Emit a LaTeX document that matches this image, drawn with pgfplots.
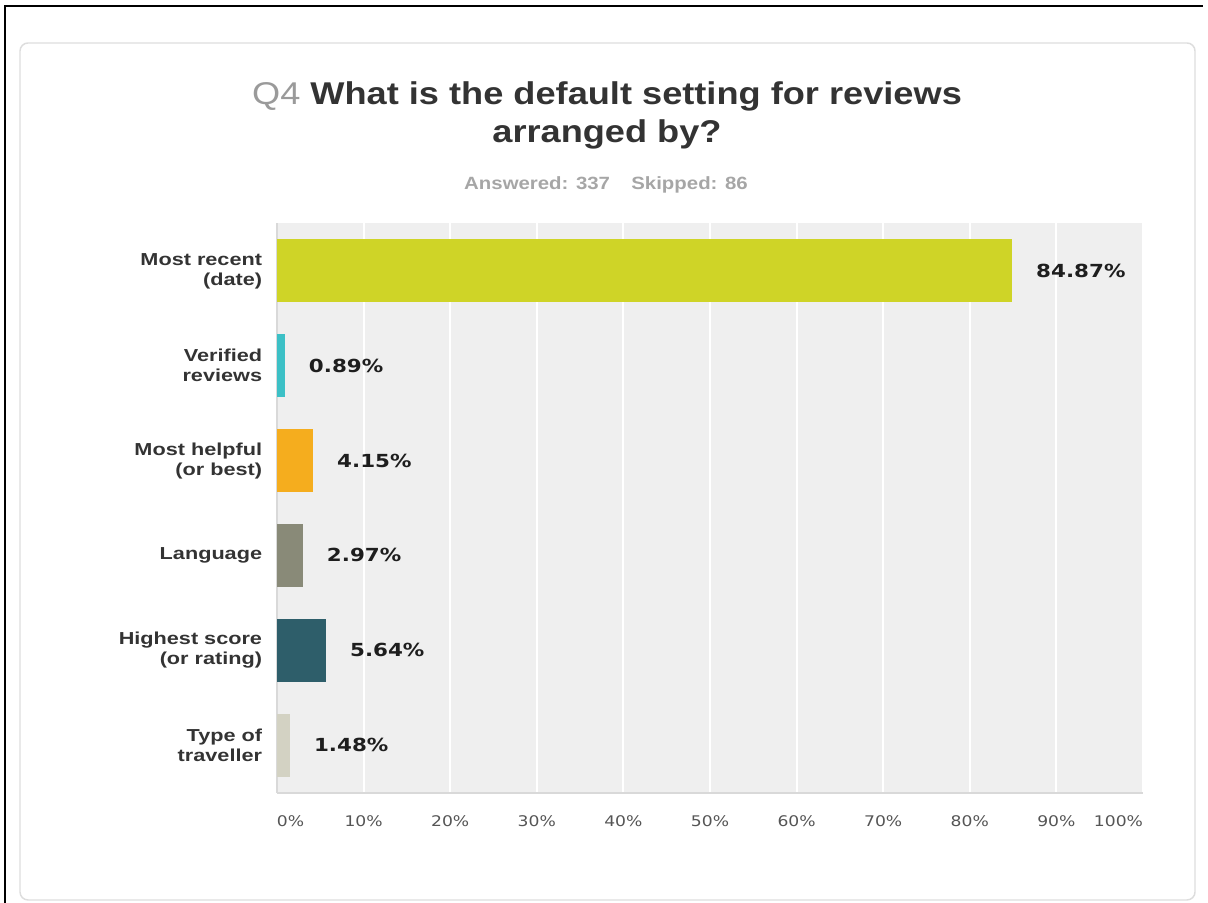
\documentclass[border=0pt]{standalone}
\usepackage{fontspec}
\setmainfont{Liberation Sans}[FakeStretch=1.15]
\newfontfamily\labfont{Liberation Sans}[FakeStretch=1.25]
\newfontfamily\valfont{DejaVu Sans}[FakeStretch=1.19]
\newfontfamily\tickfont{DejaVu Sans}[FakeStretch=1.17]
\usepackage{pgfplots}
\pgfplotsset{compat=1.18}

\definecolor{cA}{HTML}{CFD427}
\definecolor{cB}{HTML}{3CC0C6}
\definecolor{cC}{HTML}{F5AD1E}
\definecolor{cD}{HTML}{898A78}
\definecolor{cE}{HTML}{2E5E6A}
\definecolor{cF}{HTML}{D3D2C3}
\definecolor{plotbg}{HTML}{EFEFEF}
\definecolor{axgray}{HTML}{D9D9D9}
\definecolor{cardgray}{HTML}{DDDDDD}
\definecolor{titlegray}{HTML}{333333}
\definecolor{qgray}{HTML}{9A9A9A}
\definecolor{subgray}{HTML}{A6A6A6}
\definecolor{labgray}{HTML}{333333}
\definecolor{tickgray}{HTML}{555555}
\definecolor{valcol}{HTML}{1E1E1E}

\begin{document}
\begin{tikzpicture}
% 1 px of the reference = 0.75pt, y measured upward from the bottom edge
\begin{scope}[x=0.75pt,y=0.75pt]
\path[use as bounding box] (0,0) rectangle (1208,903);
\draw[line width=2.2pt] (5,0) -- (5,897) -- (1203,897);
\draw[cardgray, line width=1.1pt, rounded corners=6pt] (20,3) rectangle (1195,860);
\node[anchor=base, text=titlegray, inner sep=0pt] at (607,798)
  {\fontsize{23.6}{28}\selectfont\bfseries{\mdseries\color{qgray}Q4} What is the default setting for reviews};
\node[anchor=base, text=titlegray, inner sep=0pt] at (607,760)
  {\fontsize{23.6}{28}\selectfont\bfseries arranged by?};
\node[anchor=base, text=subgray, inner sep=0pt] at (606,713)
  {\fontsize{13.3}{16}\selectfont\bfseries Answered: 337\hspace*{16pt}Skipped: 86};
\end{scope}

\begin{axis}[
  at={(207.75pt,82.5pt)}, anchor=south west,
  width=649.5pt, height=427.5pt, scale only axis,
  xmin=0, xmax=100, ymin=-0.506, ymax=5.506,
  xbar, bar width=47.25pt, bar shift=0pt,
  axis background/.style={fill=plotbg},
  axis x line*=bottom, axis y line*=left,
  x axis line style={-, draw=axgray, line width=2.2pt},
  y axis line style={-, draw=axgray, line width=1.5pt},
  major tick length=0pt,
  xmajorgrids, major grid style={white, line width=1.4pt},
  xtick={0,10,...,100},
  xticklabels={\rlap{0\%},10\%,20\%,30\%,40\%,50\%,60\%,70\%,80\%,90\%,\llap{100\%}},
  xticklabel style={font=\tickfont\fontsize{11}{13}\selectfont, text=tickgray, inner sep=0pt, yshift=-17pt},
  ytick={0,...,5},
  yticklabels={{Type of\\traveller},{Highest score\\(or rating)},{Language},{Most helpful\\(or best)},{Verified\\reviews},{Most recent\\(date)}},
  yticklabel style={font=\labfont\fontsize{13}{15}\selectfont\bfseries, text=labgray, align=right, inner sep=0pt, xshift=-11pt},
  point meta=x,
  nodes near coords={\pgfmathprintnumber[fixed,fixed zerofill,precision=2]{\pgfplotspointmeta}\%},
  /pgf/number format/assume math mode=true,
  every node near coord/.append style={anchor=west, inner sep=0pt, xshift=18pt,
    font=\valfont\fontsize{13.5}{16}\selectfont\bfseries, text=valcol},
]
\addplot[fill=cA, draw=none] coordinates {(84.87,5)};
\addplot[fill=cB, draw=none] coordinates {(0.89,4)};
\addplot[fill=cC, draw=none] coordinates {(4.15,3)};
\addplot[fill=cD, draw=none] coordinates {(2.97,2)};
\addplot[fill=cE, draw=none] coordinates {(5.64,1)};
\addplot[fill=cF, draw=none] coordinates {(1.48,0)};
\end{axis}
\end{tikzpicture}
\end{document}
